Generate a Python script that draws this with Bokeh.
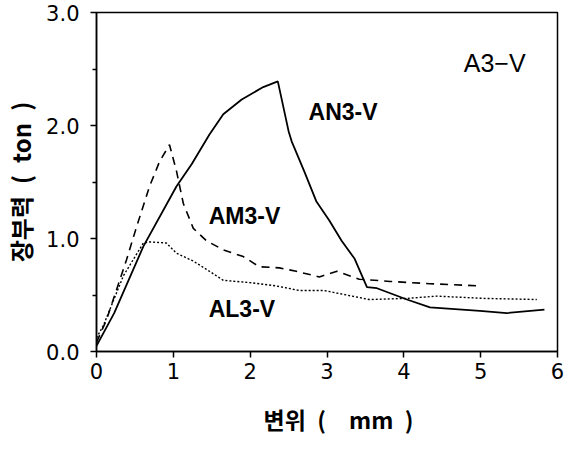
from bokeh.plotting import figure
from bokeh.models import FixedTicker, NumeralTickFormatter, Label, Range1d
from bokeh.embed import file_html
from bokeh.resources import INLINE

# AN3-V (solid)
an_x = [0.0, 0.23, 0.61, 1.04, 1.24, 1.47, 1.65, 1.89, 2.17, 2.36, 2.50, 2.54, 2.70, 2.86,
        3.03, 3.19, 3.36, 3.52, 3.65, 4.04, 4.34, 4.99, 5.34, 5.83]
an_y = [0.05, 0.34, 0.93, 1.46, 1.66, 1.92, 2.10, 2.23, 2.34, 2.39, 1.95, 1.86, 1.60, 1.33,
        1.16, 0.98, 0.82, 0.57, 0.56, 0.46, 0.39, 0.36, 0.34, 0.37]
# AM3-V (dashed)
am_x = [0.0, 0.13, 0.39, 0.52, 0.69, 0.82, 0.95, 1.04, 1.13, 1.26, 1.43, 1.65, 1.91, 2.12,
        2.38, 2.60, 2.90, 3.13, 3.42, 3.82, 4.34, 5.01]
am_y = [0.08, 0.28, 0.81, 1.10, 1.46, 1.68, 1.83, 1.60, 1.31, 1.09, 0.98, 0.90, 0.84, 0.75,
        0.74, 0.71, 0.66, 0.71, 0.64, 0.62, 0.60, 0.58]
# AL3-V (dotted)
al_x = [0.0, 0.09, 0.35, 0.61, 0.69, 0.91, 1.04, 1.26, 1.47, 1.65, 1.99, 2.34, 2.64, 2.96,
        3.55, 4.04, 4.43, 5.04, 5.73]
al_y = [0.12, 0.23, 0.67, 0.96, 0.97, 0.96, 0.87, 0.80, 0.71, 0.63, 0.61, 0.58, 0.54, 0.54,
        0.46, 0.47, 0.49, 0.47, 0.46]

x_ticks = [0, 1, 2, 3, 4, 5, 6]
y_ticks = [0.0, 1.0, 2.0, 3.0]

labels = ["AN3-V", "AM3-V", "AL3-V", "A3\u2212V"]
label_x = [2.76, 1.46, 1.46, 4.78]
label_y = [2.12, 1.20, 0.38, 2.55]

p = figure(frame_width=461, frame_height=339, output_backend="svg", toolbar_location=None,
           x_range=Range1d(0, 6), y_range=Range1d(0, 3),
           min_border_left=92, min_border_right=8, min_border_top=12, min_border_bottom=88)
p.background_fill_color = "white"
p.border_fill_color = "white"
p.outline_line_color = "black"
p.outline_line_width = 1.5
p.grid.visible = False

p.line(an_x, an_y, line_color="black", line_width=1.8)
p.line(am_x, am_y, line_color="black", line_width=1.6, line_dash="8 6")
p.line(al_x, al_y, line_color="black", line_width=1.4, line_dash="2 2")

p.xaxis.ticker = FixedTicker(ticks=x_ticks)
p.yaxis.ticker = FixedTicker(ticks=y_ticks, minor_ticks=[0.5, 1.5, 2.5])
p.yaxis.formatter = NumeralTickFormatter(format="0.0")

for ax in (p.xaxis[0], p.yaxis[0]):
    ax.axis_line_color = "black"
    ax.axis_line_width = 1.5
    ax.major_tick_line_color = "black"
    ax.major_tick_line_width = 1.5
    ax.major_tick_in = 0
    ax.major_tick_out = 6
    ax.minor_tick_line_color = "black"
    ax.minor_tick_line_width = 1.5
    ax.minor_tick_in = 0
    ax.minor_tick_out = 4
    ax.major_label_text_font = "DejaVu Sans"
    ax.major_label_text_font_size = "21px"
    ax.major_label_text_color = "black"
    ax.axis_label_text_font = "Noto Sans CJK KR"
    ax.axis_label_text_font_style = "bold"
    ax.axis_label_text_color = "black"

p.xaxis.minor_tick_line_color = None
p.xaxis.major_label_standoff = 5
p.yaxis.major_label_standoff = 11

p.xaxis.axis_label = "\u2003변위\u2002(\u2002\u2002mm\u2002)"
p.xaxis.axis_label_text_font_size = "23px"
p.xaxis.axis_label_standoff = 20
p.yaxis.axis_label = "장부력\u2002(\u2002ton\u2002)"
p.yaxis.axis_label_text_font_size = "24px"
p.yaxis.axis_label_standoff = 5

for i, t in enumerate(labels):
    bold = i < 3
    p.add_layout(Label(x=label_x[i], y=label_y[i], text=t,
                       text_font="Liberation Sans",
                       text_font_style="bold" if bold else "normal",
                       text_font_size="23px" if bold else "25px",
                       text_baseline="middle", text_align="left", text_color="black"))

open("out.html", "w").write(file_html(p, INLINE))
